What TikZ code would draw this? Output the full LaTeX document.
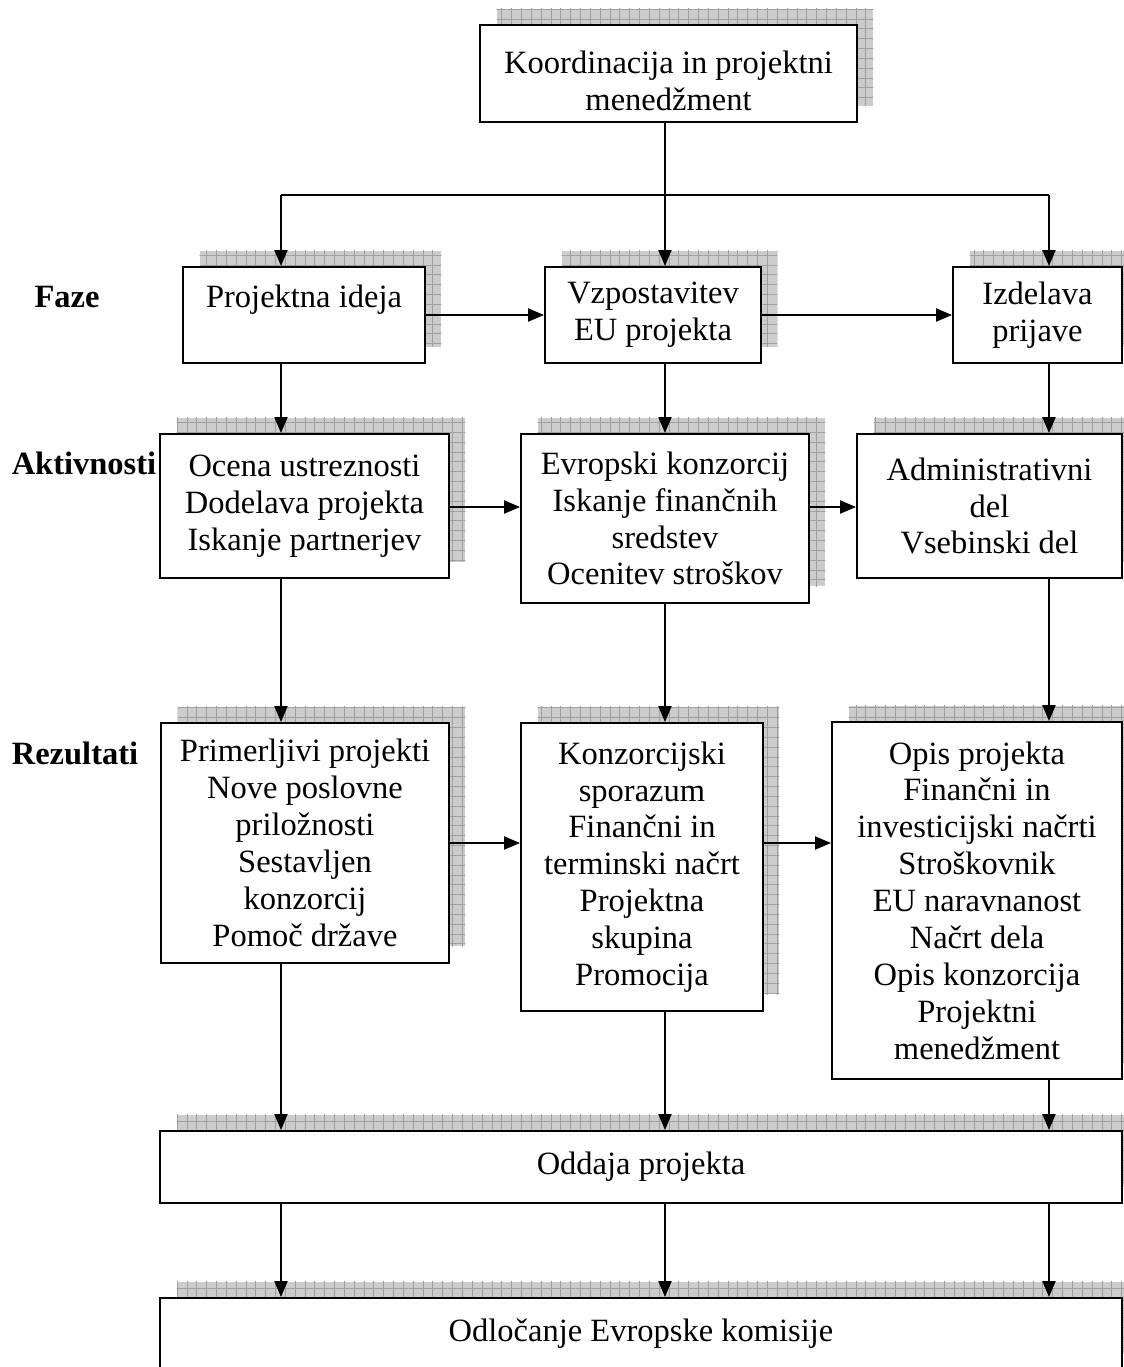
\documentclass[tikz,border=0pt]{standalone}
\usepackage{fontspec}
\setmainfont{Liberation Serif}
\usetikzlibrary{arrows.meta,shadows,patterns.meta}

\tikzset{
    stage/.style = {
        draw,
        black,
        line width=1.1pt,
        fill=white,
        align=center,
        inner sep=0pt,
        font=\fontsize{18.5}{21}\selectfont,
        general shadow={fill=gray!40, shadow xshift=0.33cm, shadow yshift=0.33cm},
        general shadow={pattern={Hatch[distance=5.6pt, line width=0.5pt]}, pattern color=gray!75, shadow xshift=0.33cm, shadow yshift=0.33cm}
    },
    link/.style = {
        line width=1.1pt,
        black
    },
    flow/.style = {
        link,
        -{Triangle[length=0.32cm, width=0.26cm]}
    },
    rowname/.style = {
        font=\fontsize{18.5}{21}\selectfont\bfseries
    }
}

\begin{document}
\begin{tikzpicture}[x=0.02cm, y=-0.02cm]
    \useasboundingbox (0,0) rectangle (1124,1367);
    \clip (0,0) rectangle (1124,1367);

    % Guides for the columns and rows
    \coordinate (colA) at (281,0);
    \coordinate (colB) at (665,0);
    \coordinate (colC) at (1049,0);
    \coordinate (split) at (665,195);
    \coordinate (rowB) at (0,507);
    \coordinate (rowC) at (0,843);

    % Draw all boxes
    \node[stage, minimum width=7.54cm, minimum height=1.94cm] (koord) at (668.5,73.5) {\rule{0pt}{21pt}Koordinacija in projektni\\menedžment};

    \node[stage, minimum width=4.84cm, minimum height=1.92cm] (ideja) at (304,315) {Projektna ideja\\\mbox{}};
    \node[stage, minimum width=4.32cm, minimum height=1.92cm] (vzpost) at (653,315) {Vzpostavitev\\EU projekta};
    \node[stage, minimum width=3.38cm, minimum height=1.92cm] (izdel) at (1037.5,315) {Izdelava\\prijave};

    \node[stage, minimum width=5.78cm, minimum height=2.88cm] (ocena) at (304.5,506) {Ocena ustreznosti\\Dodelava projekta\\Iskanje partnerjev};
    \node[stage, minimum width=5.76cm, minimum height=3.38cm] (evrop) at (665,518.5) {Evropski konzorcij\\Iskanje finančnih\\sredstev\\Ocenitev stroškov};
    \node[stage, minimum width=5.30cm, minimum height=2.88cm] (admin) at (989.5,506) {Administrativni\\del\\Vsebinski del};

    \node[stage, minimum width=5.76cm, minimum height=4.80cm] (primer) at (305,843) {Primerljivi projekti\\Nove poslovne\\priložnosti\\Sestavljen\\konzorcij\\Pomoč države};
    \node[stage, minimum width=4.84cm, minimum height=5.76cm] (konzor) at (642,867) {Konzorcijski\\sporazum\\Finančni in\\terminski načrt\\Projektna\\skupina\\Promocija};
    \node[stage, minimum width=5.80cm, minimum height=7.14cm] (opis) at (977,900.5) {Opis projekta\\Finančni in\\investicijski načrti\\Stroškovnik\\EU naravnanost\\Načrt dela\\Opis konzorcija\\Projektni\\menedžment};

    \node[stage, minimum width=19.24cm, minimum height=1.44cm] (oddaja) at (641,1167) {Oddaja projekta};
    \node[stage, minimum width=19.24cm, minimum height=1.44cm] (odloc) at (641,1334) {Odločanje Evropske komisije};

    % Draw row names
    \node[rowname] (faze) at (67,297) {Faze};
    \node[rowname] (aktiv) at (84,463) {Aktivnosti};
    \node[rowname] (rezul) at (75,753) {Rezultati};

    % Draw connectors
    \draw[link] (koord.south -| colB) -- (split);
    \draw[link] (split -| colA) -- (split -| colC);
    \draw[flow] (split -| colA) -- (ideja.north -| colA);
    \draw[flow] (split) -- (vzpost.north -| colB);
    \draw[flow] (split -| colC) -- (izdel.north -| colC);

    \draw[flow] (ideja.east) -- (vzpost.west);
    \draw[flow] (vzpost.east) -- (izdel.west);

    \draw[flow] (ideja.south -| colA) -- (ocena.north -| colA);
    \draw[flow] (vzpost.south -| colB) -- (evrop.north -| colB);
    \draw[flow] (izdel.south -| colC) -- (admin.north -| colC);

    \draw[flow] (ocena.east |- rowB) -- (evrop.west |- rowB);
    \draw[flow] (evrop.east |- rowB) -- (admin.west |- rowB);

    \draw[flow] (ocena.south -| colA) -- (primer.north -| colA);
    \draw[flow] (evrop.south -| colB) -- (konzor.north -| colB);
    \draw[flow] (admin.south -| colC) -- (opis.north -| colC);

    \draw[flow] (primer.east |- rowC) -- (konzor.west |- rowC);
    \draw[flow] (konzor.east |- rowC) -- (opis.west |- rowC);

    \foreach \src/\col in {primer/colA, konzor/colB, opis/colC}
        \draw[flow] (\src.south -| \col) -- (oddaja.north -| \col);
    \foreach \col in {colA, colB, colC}
        \draw[flow] (oddaja.south -| \col) -- (odloc.north -| \col);
\end{tikzpicture}
\end{document}
